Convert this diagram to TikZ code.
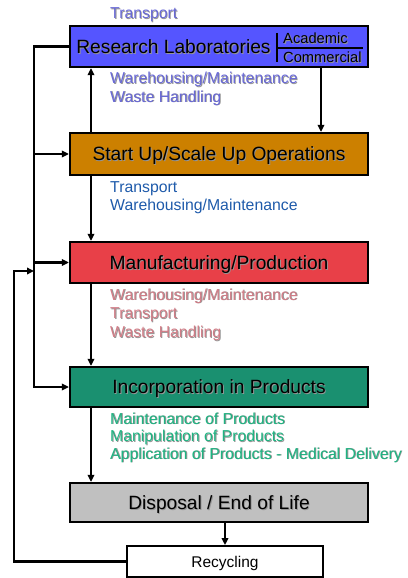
\documentclass[tikz,border=0pt]{standalone}
\usepackage{fontspec}
\setmainfont{Liberation Sans}
\usetikzlibrary{arrows.meta}

\definecolor{labblue}{RGB}{85,85,255}
\definecolor{startorange}{RGB}{204,128,0}
\definecolor{manured}{RGB}{232,64,72}
\definecolor{incgreen}{RGB}{26,144,112}
\definecolor{dispgray}{RGB}{192,192,192}
\definecolor{labtext}{RGB}{105,105,215}
\definecolor{starttext}{RGB}{30,90,170}
\definecolor{manutext}{RGB}{210,125,135}
\definecolor{inctext}{RGB}{30,180,130}
\definecolor{shadowgray}{RGB}{150,150,150}

\newcommand{\dropsh}[1]{\rlap{\kern0.9pt\raisebox{-0.9pt}{\color{shadowgray}#1}}#1}

\begin{document}
\begin{tikzpicture}[x=1pt,y=-1pt,
  box/.style={draw,line width=2.2pt,minimum width=298pt,inner sep=0pt},
  title/.style={inner sep=0pt,text height=13.6pt,text depth=0pt,font=\fontsize{19.2}{23}\selectfont},
  tag/.style={anchor=base west,inner sep=0pt,font=\fontsize{15.8}{19}\selectfont},
  arr/.style={line width=2.2pt,-{Triangle[length=7pt,width=6.5pt]}}]
\useasboundingbox (0,0) rectangle (407,578);

\begin{scope}
\coordinate (bus) at (34,0);
\coordinate (col) at (91,0);
\coordinate (rcol) at (321,0);
\coordinate (loop) at (14,271);

% boxes
\node[box,fill=labblue,minimum height=41pt] (lab) at (219,46.5) {};
\node[title] (labname) at (173.5,46.5) {\dropsh{Research Laboratories}};
\draw[line width=1.3pt] (277,33) coordinate (divtop) -- (277,62) coordinate (divbot);
\draw[line width=1.3pt] (277,48) coordinate (divmid) -- (363,48) coordinate (divend);
\node[tag,font=\fontsize{14.7}{17}\selectfont] (acad) at (283,43.3) {\dropsh{Academic}};
\node[tag,font=\fontsize{14.7}{17}\selectfont] (comm) at (283,62.7) {\dropsh{Commercial}};

\node[box,title,fill=startorange,minimum height=42pt] (start) at (219,154) {\dropsh{Start Up/Scale Up Operations}};
\node[box,title,fill=manured,minimum height=41pt] (manu) at (219,262.5) {\dropsh{Manufacturing/Production}};
\node[box,title,fill=incgreen,minimum height=40pt] (inc) at (219,387) {\dropsh{Incorporation in Products}};
\node[box,title,fill=dispgray,minimum height=39pt] (disp) at (219,502.5) {\dropsh{Disposal / End of Life}};
\node[draw,fill=white,line width=1.8pt,minimum width=196pt,minimum height=31pt,inner sep=0pt,
  text height=11.1pt,text depth=0pt,font=\fontsize{15.5}{19}\selectfont] (recy) at (225,561.5) {Recycling};

% labels
\node[tag,labtext] (labt1) at (110,19) {\dropsh{Transport}};
\node[tag,labtext] (labt2) at (110,83.5) {\dropsh{Warehousing/Maintenance}};
\node[tag,labtext] (labt3) at (110,102) {\dropsh{Waste Handling}};

\node[tag,starttext] (startt1) at (110,192.7) {Transport};
\node[tag,starttext] (startt2) at (110,210.7) {Warehousing/Maintenance};

\node[tag,manutext] (manut1) at (110,300) {\dropsh{Warehousing/Maintenance}};
\node[tag,manutext] (manut2) at (110,318.5) {\dropsh{Transport}};
\node[tag,manutext] (manut3) at (110,337.5) {\dropsh{Waste Handling}};

\node[tag,inctext] (inct1) at (110,424) {\dropsh{Maintenance of Products}};
\node[tag,inctext] (inct2) at (110,441.5) {\dropsh{Manipulation of Products}};
\node[tag,inctext] (inct3) at (110,459) {\dropsh{Application of Products - Medical Delivery}};

% connectors
\draw[arr] (lab.west) -- (lab.west -| bus) -- (inc.west -| bus) -- (inc.west);
\draw[arr] (start.west -| bus) -- (start.west);
\draw[arr] (manu.west -| bus) -- (manu.west);

\draw[arr] (start.north -| col) -- (lab.south -| col);
\draw[arr] (start.south -| col) -- (manu.north -| col);
\draw[arr] (manu.south -| col) -- (inc.north -| col);
\draw[arr] (inc.south -| col) -- (disp.north -| col);
\draw[arr] (lab.south -| rcol) -- (start.north -| rcol);
\draw[arr] (disp.south -| recy.north) -- (recy.north);

\draw[arr] (recy.west) -| (loop) -- (loop -| bus);
\end{scope}

\end{tikzpicture}
\end{document}
